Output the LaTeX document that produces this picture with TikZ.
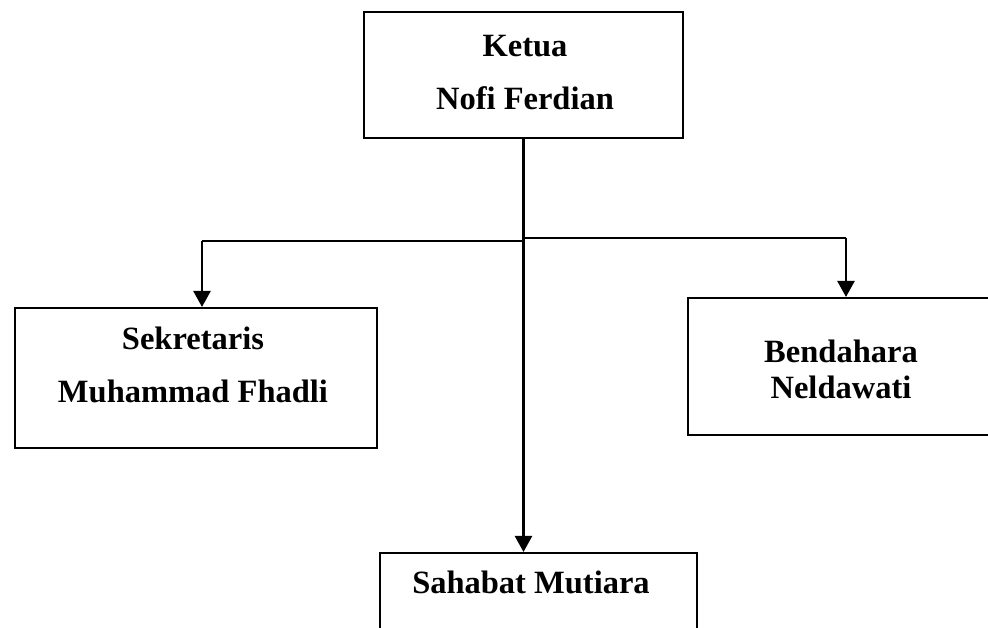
\documentclass[tikz,border=0pt]{standalone}
\usepackage{fontspec}
\setmainfont{Liberation Serif}
\usetikzlibrary{arrows.meta}
\tikzstyle{kotak} = [rectangle, draw, line width=1.2pt]
\tikzstyle{teks} = [font=\fontsize{18.5}{30}\selectfont\bfseries, align=center, inner sep=0pt]
\tikzstyle{garis} = [draw, line width=1.4pt]
\tikzstyle{panah} = [draw, line width=1.4pt, -{Triangle[length=0.32cm, width=0.34cm]}]

\begin{document}
\begin{tikzpicture}[x=0.02cm, y=-0.02cm]
\useasboundingbox (0,0) rectangle (988,628);
% Place boxes
\node [kotak, minimum width=6.38cm, minimum height=2.52cm] (ketua) at (523.5,75) {};
\node [kotak, minimum width=7.24cm, minimum height=2.8cm] (sekretaris) at (196,378) {};
\node [kotak, minimum width=6.32cm, minimum height=2.74cm] (bendahara) at (846,366.5) {};
\node [kotak, minimum width=6.34cm, minimum height=2.94cm] (sahabat) at (538.5,626.5) {};
% Place texts
\node [teks] (ketuaT) at (525,72.5) {Ketua\\Nofi Ferdian};
\node [teks] (sekretarisT) at (193,365) {Sekretaris\\Muhammad Fhadli};
\node [teks, font=\fontsize{18.5}{20.5}\selectfont\bfseries] (bendaharaT) at (841,369) {Bendahara\\Neldawati};
\node [teks] (sahabatT) at (531,582) {Sahabat Mutiara};
% Connectors
\coordinate (cabangKiri) at (523,241);
\coordinate (cabangKanan) at (525,238);
\coordinate (kiri) at (202,241);
\coordinate (kanan) at (846,238);
\path [panah] (ketua.south) -- (ketua.south |- sahabat.north);
\path [garis] (cabangKiri) -- (kiri);
\path [garis] (cabangKanan) -- (kanan);
\path [panah] (kiri) -- (kiri |- sekretaris.north);
\path [panah] (kanan) -- (bendahara.north);
\end{tikzpicture}
\end{document}
